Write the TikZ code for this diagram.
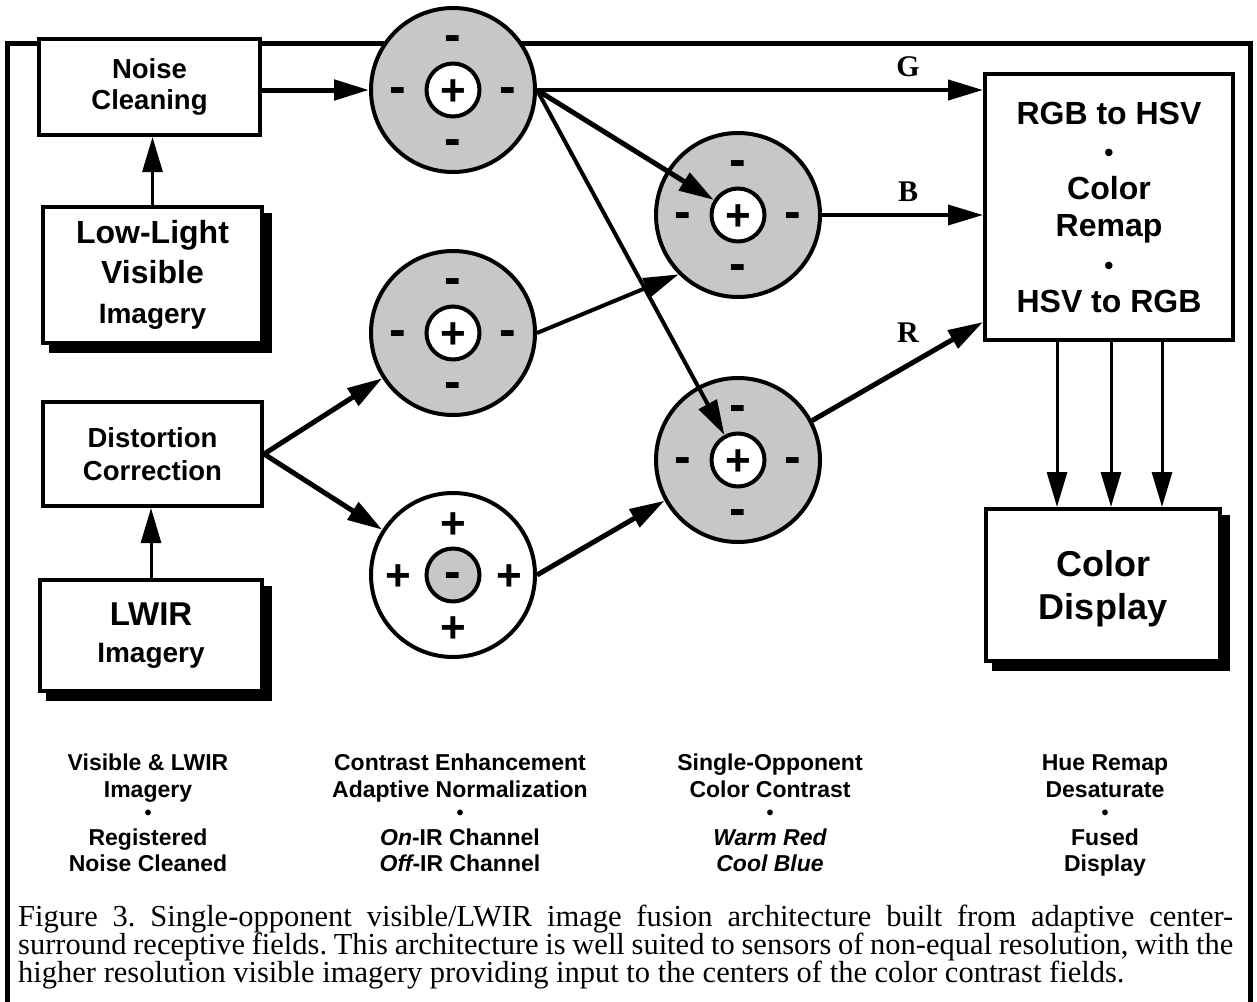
\documentclass[tikz,border=0pt]{standalone}
\usepackage{fontspec}
\setmainfont{Liberation Serif}
\newfontfamily\hv{Liberation Sans}
\usetikzlibrary{arrows.meta,calc,shadows}
\definecolor{surround}{gray}{0.78}
\newcommand\fsz[2]{\fontsize{#1pt}{#2pt}\selectfont}
\frenchspacing
\tikzset{
  box/.style={draw, line width=4pt, fill=white, inner sep=0pt, align=center},
  shadowed/.style={general shadow={fill=black, draw=black, line width=4pt, shadow xshift=8pt, shadow yshift=-8pt}},
  ring/.style={circle, draw, line width=4pt, fill=surround, minimum size=164pt, inner sep=0pt},
  hub/.style={circle, draw, line width=4pt, fill=white, minimum size=53pt, inner sep=0pt},
  plussign/.style={font=\hv\bfseries\fsz{44}{44}, inner sep=0pt, anchor=base},
  minussign/.style={font=\hv\bfseries\fsz{50}{50}, inner sep=0pt, anchor=base},
  arr/.style={-{Triangle[length=35pt,width=20pt]}, line width=#1},
  lab/.style={font=\hv\bfseries\fsz{23}{23}, inner sep=0pt, anchor=base},
  dot/.style={font=\hv\bfseries\fsz{20}{20}, inner sep=0pt, anchor=base},
  chan/.style={font=\bfseries\fsz{30}{30}, inner sep=0pt},
  captext/.style={font=\fsz{30.5}{30.5}, inner sep=0pt, anchor=base west}
}
\begin{document}
\begin{tikzpicture}[x=1pt,y=-1pt]
\useasboundingbox (0,0) rectangle (1257,1001);
\clip (0,0) rectangle (1257,1001);
\fill[white] (0,0) rectangle (1257,1001);
% outer frame
\draw[line width=5pt] (7,1010) -- (7,43.5) -- (1250,43.5) -- (1250,1010);

% boxes
\node[box, font=\hv\bfseries\fsz{27.5}{31}, minimum width=221pt, minimum height=96pt] (nc) at (149.5,87) {Noise\\Cleaning};
\node[box, shadowed, font=\hv\bfseries\fsz{32}{40}, minimum width=219pt, minimum height=136pt] (ll) at (152.5,275) {Low-Light\\Visible\\{\fsz{28}{40}Imagery}};
\node[box, font=\hv\bfseries\fsz{27.5}{33}, minimum width=219pt, minimum height=104pt] (dc) at (152.5,454) {Distortion\\Correction};
\node[box, shadowed, font=\hv\bfseries\fsz{33}{37}, minimum width=222pt, minimum height=111pt] (lw) at (151,635.5) {LWIR\\{\fsz{28}{37}Imagery}};
\node[box, font=\hv\bfseries\fsz{32}{37.6}, minimum width=248pt, minimum height=266pt] (rgb) at (1109,207) {RGB to HSV\\{\fsz{26}{37.6}•}\\Color\\Remap\\{\fsz{26}{37.6}•}\\HSV to RGB};
\node[box, shadowed, font=\hv\bfseries\fsz{36}{43}, minimum width=234pt, minimum height=152pt, text depth=0pt] (cd) at (1103,585) {Color\\Display};

% receptive fields
\node[ring] (c1) at (453,90) {};
\node[hub] (c1i) at (453,90) {};
\node[ring] (c2) at (453,333) {};
\node[hub] (c2i) at (453,333) {};
\node[ring] (c4) at (738,215) {};
\node[hub] (c4i) at (738,215) {};
\node[ring] (c5) at (738,460) {};
\node[hub] (c5i) at (738,460) {};
\foreach \c in {c1,c2,c4,c5}{
  \node[minussign] (\c-t) at ($(\c)+(0,-39)$) {-};
  \node[minussign] (\c-b) at ($(\c)+(0,65)$) {-};
  \node[minussign] (\c-l) at ($(\c)+(-55,13)$) {-};
  \node[minussign] (\c-r) at ($(\c)+(55,13)$) {-};
  \node[plussign] (\c-p) at ($(\c)+(0,15.5)$) {+};
}
\node[ring, fill=white] (c3) at (453,575) {};
\node[hub, fill=surround] (c3i) at (453,575) {};
\node[minussign] (c3-m) at ($(c3)+(0,13)$) {-};
\node[plussign] (c3-t) at ($(c3)+(0,-36.5)$) {+};
\node[plussign] (c3-b) at ($(c3)+(0,67.5)$) {+};
\node[plussign] (c3-l) at ($(c3)+(-55,15.5)$) {+};
\node[plussign] (c3-r) at ($(c3)+(56,15.5)$) {+};

% connectors
\coordinate (rin) at ($(rgb.south west)+(0,-20)$);
\coordinate (d1) at (1057,0);
\coordinate (d2) at (1111,0);
\coordinate (d3) at (1162,0);
\draw[arr=5pt] (nc.east |- c1.west) -- (c1.west);
\draw[arr=3pt] (ll.north) -- (ll.north |- nc.south);
\draw[arr=3pt] (lw.north) -- (lw.north |- dc.south);
\draw[arr=5pt] (dc.east) -- (c2);
\draw[arr=5pt] (dc.east) -- (c3);
\draw[arr=4pt] (c1.east) -- (c1.east -| rgb.west);
\draw[arr=5pt] (c1.east) -- (c4i);
\draw[arr=4pt] (c1.east) -- (c5i);
\draw[arr=4pt] (c2.east) -- (c4.225);
\draw[arr=3.5pt] (c4.east) -- (c4.east -| rgb.west);
\draw[arr=5pt] (c3.east) -- (c5.209);
\draw[arr=5pt] (c5.28) -- (rin);
\draw[arr=3pt] (rgb.south -| d1) -- (cd.north -| d1);
\draw[arr=3pt] (rgb.south -| d2) -- (cd.north -| d2);
\draw[arr=3pt] (rgb.south -| d3) -- (cd.north -| d3);

% channel labels
\node[chan] (g) at (908,67) {G};
\node[chan] (b) at (908,192) {B};
\node[chan] (r) at (908,333) {R};

% stage labels
\node[lab] (l1a) at (148,770) {Visible \& LWIR};
\node[lab] (l1b) at (148,797) {Imagery};
\node[dot] (l1c) at (148,819) {•};
\node[lab] (l1d) at (148,845) {Registered};
\node[lab] (l1e) at (148,871) {Noise Cleaned};

\node[lab] (l2a) at (460,770) {Contrast Enhancement};
\node[lab] (l2b) at (460,797) {Adaptive Normalization};
\node[dot] (l2c) at (460,819) {•};
\node[lab] (l2d) at (460,845) {\itshape On\upshape-IR Channel};
\node[lab] (l2e) at (460,871) {\itshape Off\upshape-IR Channel};

\node[lab] (l3a) at (770,770) {Single-Opponent};
\node[lab] (l3b) at (770,797) {Color Contrast};
\node[dot] (l3c) at (770,819) {•};
\node[lab] (l3d) at (770,845) {\itshape Warm Red};
\node[lab] (l3e) at (770,871) {\itshape Cool Blue};

\node[lab] (l4a) at (1105,770) {Hue Remap};
\node[lab] (l4b) at (1105,797) {Desaturate};
\node[dot] (l4c) at (1105,819) {•};
\node[lab] (l4d) at (1105,845) {Fused};
\node[lab] (l4e) at (1105,871) {Display};

% caption
\node[captext] (cap1) at (18,926) {\makebox[1215pt][s]{Figure 3. Single-opponent visible/LWIR image fusion architecture built from adaptive center-}};
\node[captext] (cap2) at (18,954) {\makebox[1215pt][s]{surround receptive fields. This architecture is well suited to sensors of non-equal resolution, with the}};
\node[captext] (cap3) at (18,982) {higher resolution visible imagery providing input to the centers of the color contrast fields.};
\end{tikzpicture}
\end{document}
